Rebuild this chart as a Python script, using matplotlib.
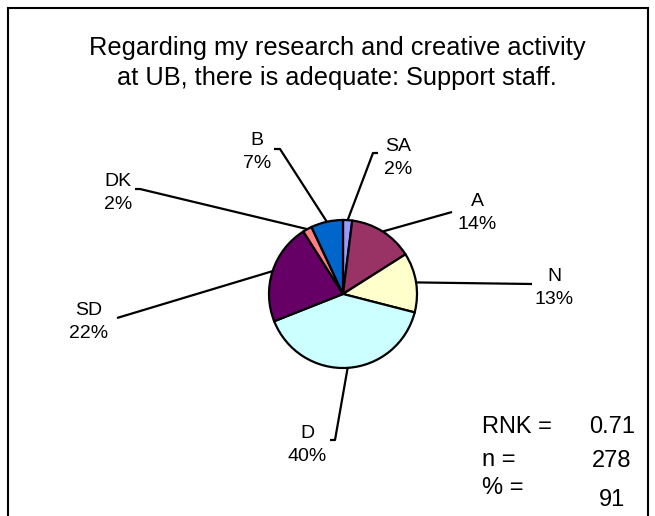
import numpy as np
import matplotlib.pyplot as plt
from matplotlib.patches import Rectangle

plt.rcParams['font.family'] = ['Liberation Sans', 'DejaVu Sans']

# survey answers
labels = ["SA", "A", "N", "D", "SD", "DK", "B"]
shares = [2, 14, 13, 40, 22, 2, 7]
colors = ["#9999FF", "#993366", "#FFFFCC", "#CCFFFF", "#660066", "#FF8080", "#0066CC"]

title_lines = ["Regarding my research and creative activity",
               "at UB, there is adequate: Support staff."]
stat_names = ["RNK =", "n =", "% ="]
stat_values = ["0.71", "278", "91"]

W, H = 655, 516
# layout (pixels from top-left): leader line end points and label centres
line_ends = [(373, 153), (452, 212), (532, 284), (335, 440), (117, 318), (140, 189), (280, 149)]
hook = [5, 0, 0, -5, 0, -5, -6]
label_pos = [(398, 158), (477, 213), (554, 288), (307, 445), (89, 322), (118, 193), (257, 152)]

cx, cy, r = 343, 294, 74

fig = plt.figure(figsize=(W / 100, H / 100), dpi=100)
ax = fig.add_axes([0, 0, 1, 1])
wedges, _ = ax.pie(shares, colors=colors, startangle=90, counterclock=False,
                   center=(cx, H - cy), radius=r, frame=False,
                   wedgeprops=dict(edgecolor="black", linewidth=1.6))
ax.set_xlim(0, W)
ax.set_ylim(0, H)
ax.set_aspect("equal")
ax.axis("off")

for i, w in enumerate(wedges):
    mid = np.deg2rad((w.theta1 + w.theta2) / 2)
    x0 = cx + r * np.cos(mid)
    y0 = H - cy + r * np.sin(mid)
    ex, ey = line_ends[i]
    ax.plot([x0, ex, ex + hook[i]], [y0, H - ey, H - ey], color="black", lw=1.6,
            solid_capstyle="butt")
    lx, ly = label_pos[i]
    ax.text(lx, H - ly, "%s\n%d%%" % (labels[i], shares[i]), ha="center", va="center",
            fontsize=14, linespacing=1.5)

for k, line in enumerate(title_lines):
    ax.text(337, H - (55 + 30 * k), line, ha="center", va="baseline", fontsize=18.3)

name_y = [433, 466, 494]
value_y = [433, 467, 506]
for k in range(3):
    ax.text(482, H - name_y[k], stat_names[k], ha="left", va="baseline", fontsize=17)
    ax.text(612, H - value_y[k], stat_values[k], ha="center", va="baseline", fontsize=17)

fig.patches.append(Rectangle((8 / W, -0.1), (648 - 8) / W, (H - 8) / H + 0.1,
                             transform=fig.transFigure, fill=False,
                             edgecolor="black", lw=1.5))

fig.savefig("out.png", dpi=100)
